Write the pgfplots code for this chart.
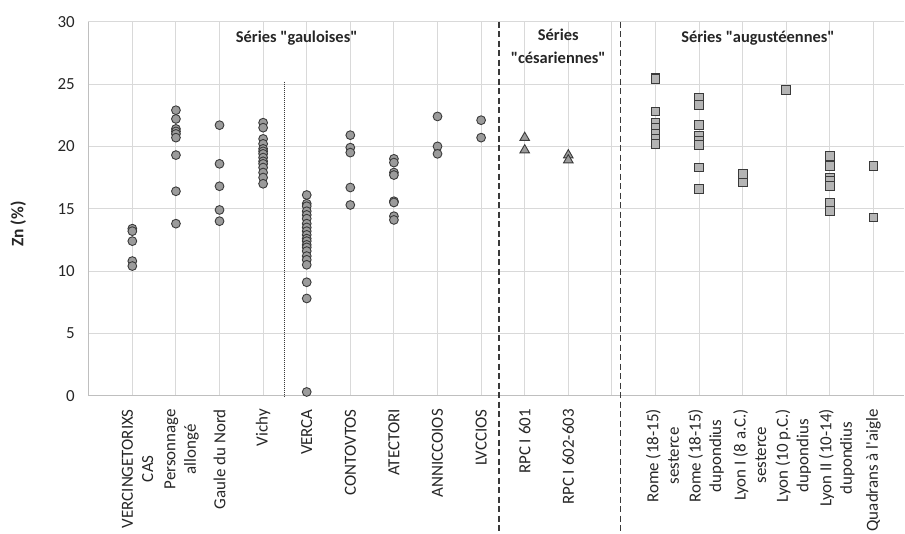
\documentclass[border=0pt]{standalone}
\usepackage{pgfplots}
\pgfplotsset{compat=1.18}
\usepackage{fontspec}
\setmainfont{Carlito}[Ligatures=TeXOff]
\definecolor{txt}{HTML}{262626}
\definecolor{gridc}{HTML}{D9D9D9}
\definecolor{axl}{HTML}{BFBFBF}
\definecolor{mfill}{HTML}{9B9B9B}
\definecolor{sfill}{HTML}{B4B4B4}
\definecolor{medge}{HTML}{3A3A3A}
\begin{document}
\begin{tikzpicture}
\begin{axis}[
 at={(0,0)}, anchor=south west,
 scale only axis, width=815.7bp, height=374bp,
 xmin=-1.01, xmax=17.70, ymin=0, ymax=30,
 xtick={0,...,17},
 xticklabels={},
 extra x ticks={0.12,1.13,2,3,4,5,6,7,8,9,10,12.16,13.16,14.16,15.16,16.16,17},
 extra x tick labels={{VERCINGETORIXS\\CAS},{Personnage\\allongé},{Gaule du Nord},{Vichy},{VERCA},{CONTOVTOS},{ATECTORI},{ANNICCOIOS},{LVCCIOS},{RPC I 601},{RPC I 602-603},{Rome (18-15)\\sesterce},{Rome (18-15)\\dupondius},{Lyon I (8 a.C.)\\sesterce},{Lyon (10 p.C.)\\dupondius},{Lyon II (10-14)\\dupondius},{Quadrans à l'aigle}},
 extra x tick style={grid=none, major tick length=0pt},
 ytick={0,5,...,30},
 xmajorgrids, ymajorgrids,
 grid style={draw=gridc, line width=0.9bp},
 axis x line*=bottom, axis y line*=left,
 axis line style={draw=axl, line width=0.9bp, -},
 major tick length=0pt,
 tick label style={font=\fontsize{17}{20.5}\selectfont, text=txt},
 /pgf/number format/assume math mode=true,
 xticklabel style={rotate=90, anchor=east, align=center},
 xticklabel shift=10bp, yticklabel shift=10bp,
 clip=false,
]
% circles (series "gauloises")
\addplot[only marks, mark=*, mark size=4.4bp, mark options={fill=mfill, draw=medge, line width=0.9bp}] coordinates {
 (0,13.4) (0,13.2) (0,12.4) (0,10.8) (0,10.4)
 (1,22.9) (1,22.2) (1,21.4) (1,21.2) (1,21.0) (1,20.7) (1,19.3) (1,16.4) (1,13.8)
 (2,21.7) (2,18.6) (2,16.8) (2,14.9) (2,14.0)
 (3,21.9) (3,21.5) (3,20.6) (3,20.2) (3,19.8) (3,19.6) (3,19.4) (3,19.1) (3,18.8) (3,18.6) (3,18.3) (3,17.9) (3,17.5) (3,17.0)
 (4,16.1) (4,15.4) (4,15.2) (4,14.8) (4,14.5) (4,14.2) (4,13.8) (4,13.5) (4,13.2) (4,12.9) (4,12.6) (4,12.4) (4,12.1) (4,11.9) (4,11.6) (4,11.2) (4,10.9) (4,10.5) (4,9.1) (4,7.8) (4,0.3)
 (5,20.9) (5,19.9) (5,19.5) (5,16.7) (5,15.3)
 (6,19.0) (6,18.7) (6,17.9) (6,17.7) (6,15.6) (6,15.5) (6,14.4) (6,14.1)
 (7,22.4) (7,20.0) (7,19.4)
 (8,22.1) (8,20.7)
};
% triangles (series "cesariennes")
\addplot[only marks, mark=triangle*, mark size=5.5bp, mark options={fill=mfill, draw=medge, line width=0.9bp}] coordinates {
 (9,20.7) (9,19.7) (10,19.3) (10,18.9)
};
% squares (series "augusteennes")
\addplot[only marks, mark=square*, mark size=4.4bp, mark options={fill=sfill, draw=medge, line width=1bp}] coordinates {
 (12,25.5) (12,25.4) (12,22.8) (12,21.9) (12,21.5) (12,21.0) (12,20.6) (12,20.2)
 (13,23.9) (13,23.3) (13,21.7) (13,20.8) (13,20.4) (13,20.1) (13,18.3) (13,16.6)
 (14,17.8) (14,17.1)
 (15,24.5)
 (16,19.2) (16,18.5) (16,18.4) (16,17.5) (16,17.2) (16,16.8) (16,15.5) (16,14.8)
 (17,18.4) (17,14.3)
};
\draw[medge, line width=0.7bp, dash pattern=on 1bp off 1bp] (axis cs:3.49,25.2) -- (axis cs:3.49,0);
\draw[medge, line width=1.5bp, dash pattern=on 6bp off 3.5bp] (axis cs:8.41,30) -- (axis cs:8.41,-11.0);
\draw[medge, line width=1.5bp, dash pattern=on 6bp off 3.5bp] (axis cs:11.2,30) -- (axis cs:11.2,-11.0);
\node[font=\fontsize{16.5}{23}\selectfont\bfseries, text=txt] at (axis cs:3.77,28.7) {Séries "gauloises"};
\node[font=\fontsize{16.5}{23}\selectfont\bfseries, text=txt, align=center] at (axis cs:9.77,28.05) {Séries\\"césariennes"};
\node[font=\fontsize{16.5}{23}\selectfont\bfseries, text=txt] at (axis cs:14.35,28.7) {Séries "augustéennes"};
\node[font=\fontsize{17.5}{20}\selectfont\bfseries, text=txt, rotate=90] at (rel axis cs:-0.0858,0.459) {Zn (\%)};
\end{axis}
\pgfresetboundingbox
\useasboundingbox (-88.3bp,-138.3bp) rectangle (816.7bp,395.7bp);
\end{tikzpicture}
\end{document}
